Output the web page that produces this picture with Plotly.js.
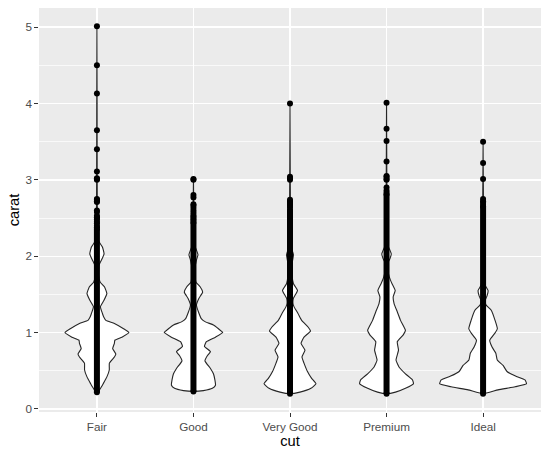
<!DOCTYPE html>
<html>
<head>
<meta charset="utf-8">
<script src="https://cdn.plot.ly/plotly-3.0.1.min.js"></script>
<style>html,body{margin:0;padding:0;background:#fff;}#chart{width:550px;height:456px;}</style>
</head>
<body>
<div id="chart"></div>
<script>
// Categories
var cuts = ["Fair", "Good", "Very Good", "Premium", "Ideal"];

// Violin outlines: carat levels and half-widths (fraction of category spacing)
var fairY  = [0.21,0.25,0.29,0.33,0.42,0.51,0.60,0.68,0.72,0.79,0.86,0.90,0.94,1.00,1.05,1.12,1.16,1.20,1.25,1.34,1.42,1.51,1.60,1.66,1.75,1.88,1.95,2.03,2.12,2.20,2.40,3.00,4.00,5.01];
var fairW  = [0,0.026,0.047,0.065,0.103,0.128,0.129,0.181,0.196,0.163,0.181,0.186,0.259,0.331,0.276,0.181,0.093,0.072,0.057,0.036,0.072,0.103,0.078,0.034,0.016,0.021,0.047,0.074,0.057,0.016,0.006,0.003,0.002,0];

var goodY  = [0.23,0.24,0.27,0.31,0.38,0.46,0.53,0.63,0.70,0.75,0.82,0.88,0.94,1.00,1.05,1.10,1.14,1.18,1.27,1.36,1.45,1.53,1.60,1.66,1.75,1.85,1.95,2.02,2.08,2.15,2.40,3.01];
var goodW  = [0,0.103,0.196,0.228,0.222,0.207,0.176,0.119,0.145,0.176,0.114,0.134,0.228,0.303,0.259,0.207,0.124,0.083,0.052,0.031,0.057,0.095,0.069,0.026,0.016,0.016,0.031,0.047,0.031,0.010,0.005,0];

var vgoodY = [0.20,0.22,0.27,0.33,0.40,0.49,0.60,0.68,0.77,0.86,0.94,1.02,1.07,1.16,1.25,1.34,1.38,1.45,1.55,1.64,1.75,1.90,2.02,2.10,2.30,3.00,4.00];
var vgoodW = [0,0.103,0.217,0.269,0.224,0.181,0.145,0.124,0.155,0.114,0.145,0.212,0.189,0.121,0.083,0.041,0.031,0.036,0.078,0.036,0.021,0.021,0.036,0.016,0.007,0.003,0];

var premY  = [0.20,0.22,0.27,0.33,0.38,0.46,0.55,0.64,0.77,0.88,0.97,1.03,1.16,1.27,1.38,1.47,1.55,1.64,1.72,1.80,1.92,1.97,2.03,2.09,2.15,2.40,3.00,4.01];
var premW  = [0,0.093,0.196,0.279,0.269,0.196,0.129,0.098,0.124,0.111,0.173,0.196,0.145,0.112,0.078,0.069,0.090,0.057,0.031,0.016,0.016,0.036,0.049,0.031,0.010,0.005,0.003,0];

var idealY = [0.20,0.25,0.29,0.33,0.38,0.43,0.49,0.57,0.64,0.73,0.81,0.90,0.99,1.05,1.16,1.29,1.36,1.42,1.48,1.55,1.62,1.70,2.00,2.50,3.50];
var idealW = [0,0.155,0.331,0.450,0.434,0.336,0.248,0.207,0.147,0.132,0.093,0.069,0.121,0.148,0.124,0.086,0.031,0.021,0.041,0.052,0.021,0.012,0.007,0.005,0];

// Dense runs of points (low, high carat) per cut
var denseLo = [0.22, 0.23, 0.20, 0.20, 0.20];
var denseHi = [2.36, 2.44, 2.61, 2.81, 2.65];

// Individual points above the dense runs
var fairPts  = [5.01,4.5,4.13,3.65,3.4,3.11,3.02,3.01,3.0,2.75,2.74,2.72,2.71,2.6,2.58,2.53,2.51,2.5,2.48,2.45,2.43,2.4,2.38];
var goodPts  = [3.01,3.0,2.8,2.77,2.68,2.66,2.63,2.6,2.57,2.54,2.52,2.5,2.48,2.46];
var vgoodPts = [4.0,3.04,3.02,3.0,2.74,2.72,2.7,2.68,2.66,2.64];
var premPts  = [4.01,3.67,3.51,3.24,3.05,3.04,3.01,3.0,2.9,2.86,2.83];
var idealPts = [3.5,3.22,3.01,2.75,2.72,2.7,2.67];

var violins = [[fairY,fairW],[goodY,goodW],[vgoodY,vgoodW],[premY,premW],[idealY,idealW]];
var pts = [fairPts, goodPts, vgoodPts, premPts, idealPts];

var traces = [];
violins.forEach(function(v, i){
  var pos = i + 1, ys = v[0], ws = v[1];
  var xs = [], yy = [];
  for (var k = 0; k < ys.length; k++){ xs.push(pos - ws[k]); yy.push(ys[k]); }
  for (var k = ys.length - 1; k >= 0; k--){ xs.push(pos + ws[k]); yy.push(ys[k]); }
  traces.push({type:'scatter', mode:'lines', x:xs, y:yy, fill:'toself', fillcolor:'#FFFFFF',
    line:{color:'#262626', width:1.1, shape:'spline', smoothing:0.4}, hoverinfo:'skip', showlegend:false});
});
pts.forEach(function(p, i){
  var pos = i + 1;
  traces.push({type:'scatter', mode:'lines+markers', x:[pos,pos], y:[denseLo[i], denseHi[i]],
    line:{color:'#000000', width:6}, marker:{color:'#000000', size:6}, hoverinfo:'skip', showlegend:false});
  traces.push({type:'scatter', mode:'markers', x:p.map(function(){return pos;}), y:p,
    marker:{color:'#000000', size:6}, hoverinfo:'skip', showlegend:false});
});

var fam = '"Liberation Sans", Arial, sans-serif';
var layout = {
  width:550, height:456,
  margin:{l:38.5, r:8.5, t:8, b:44},
  paper_bgcolor:'#FFFFFF', plot_bgcolor:'#EBEBEB',
  font:{family:fam},
  xaxis:{range:[0.4,5.6], tickmode:'array', tickvals:[1,2,3,4,5], ticktext:cuts,
    showgrid:true, gridcolor:'#FFFFFF', gridwidth:1.4, zeroline:false, showline:false,
    ticks:'outside', ticklen:3.6, tickwidth:1, tickcolor:'#333333',
    tickfont:{size:11.7, color:'#4D4D4D', family:fam},
    title:{text:'cut', font:{size:14.7, color:'#000000', family:fam}, standoff:3}},
  yaxis:{range:[-0.04,5.25], tick0:0, dtick:1,
    showgrid:true, gridcolor:'#FFFFFF', gridwidth:1.4, zeroline:false, showline:false,
    ticks:'outside', ticklen:3.6, tickwidth:1, tickcolor:'#333333',
    tickfont:{size:11.7, color:'#4D4D4D', family:fam},
    minor:{dtick:0.5, tick0:0, showgrid:true, gridcolor:'#FFFFFF', gridwidth:0.7, ticks:''},
    title:{text:'carat', font:{size:14.7, color:'#000000', family:fam}, standoff:2}}
};
Plotly.newPlot('chart', traces, layout, {staticPlot:true, displayModeBar:false});
</script>
</body>
</html>
